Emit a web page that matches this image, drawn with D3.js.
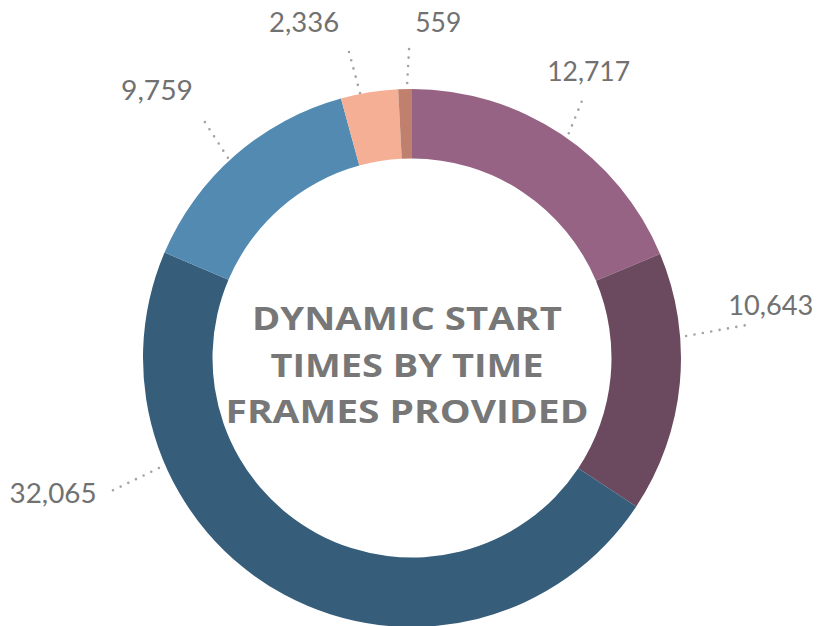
<!DOCTYPE html>
<html>
<head>
<meta charset="utf-8">
<script src="https://cdn.jsdelivr.net/npm/d3@7"></script>
<style>
  body { margin: 0; background: #ffffff; }
  svg { display: block; }
</style>
</head>
<body>
<svg id="chart" width="818" height="626"></svg>
<script>
// Dynamic start times, grouped by the time frame provided
const values = [12717, 10643, 32065, 9759, 2336, 559];
const colors = ["#976384", "#6b4a5f", "#365d7a", "#538ab2", "#f5af95", "#c0806e"];
const titleLines = ["DYNAMIC START", "TIMES BY TIME", "FRAMES PROVIDED"];

// Leader line placement per slice (degrees clockwise from 12 o'clock, radii in px)
const leaders = [
  { a0: 34.9,  r0: 274, a1: 33.4,  r1: 310, anchor: "middle", dx: 6,   dy: -18 },
  { a0: 85.4,  r0: 275, a1: 84.3,  r1: 342, anchor: "start",  dx: -24, dy: -9 },
  { a0: 246.5, r0: 276, a1: 246.1, r1: 333, anchor: "end",    dx: -11, dy: 10 },
  { a0: 317.4, r0: 272, a1: 318.9, r1: 321, anchor: "end",    dx: -8,  dy: -16 },
  { a0: 348.9, r0: 270, a1: 348.3, r1: 320, anchor: "end",    dx: -8,  dy: -13 },
  { a0: 359.0, r0: 275, a1: 359.5, r1: 313, anchor: "start",  dx: 6,   dy: -13 }
];
const titleWidths = [310, 273, 363];
const labelWidths = [83, 85, 87, 72, 70, 46];

const cx = 412, cy = 358;
const outerR = 269, innerR = 199.5;

const svg = d3.select("#chart");
const g = svg.append("g").attr("transform", `translate(${cx},${cy})`);

const pie = d3.pie().sort(null).value(d => d)(values);
const arc = d3.arc().innerRadius(innerR).outerRadius(outerR);

g.selectAll("path.slice")
  .data(pie)
  .join("path")
  .attr("class", "slice")
  .attr("d", arc)
  .attr("fill", (d, i) => colors[i]);

const polar = (deg, r) => {
  const t = deg * Math.PI / 180;
  return [r * Math.sin(t), -r * Math.cos(t)];
};

const fmt = d3.format(",");

const lab = g.selectAll("g.label")
  .data(pie)
  .join("g")
  .attr("class", "label");

lab.append("line")
  .each(function(d, i) {
    const L = leaders[i];
    const p0 = polar(L.a0, L.r0), p1 = polar(L.a1, L.r1);
    d3.select(this)
      .attr("x1", p0[0]).attr("y1", p0[1])
      .attr("x2", p1[0]).attr("y2", p1[1]);
  })
  .attr("stroke", "#a3a3a3")
  .attr("stroke-width", 2.6)
  .attr("stroke-linecap", "round")
  .attr("stroke-dasharray", "0 8.5");

lab.append("text")
  .each(function(d, i) {
    const L = leaders[i];
    const p1 = polar(L.a1, L.r1);
    d3.select(this)
      .attr("x", p1[0] + L.dx)
      .attr("y", p1[1] + L.dy)
      .attr("text-anchor", L.anchor)
      .attr("textLength", labelWidths[i])
      .attr("lengthAdjust", "spacingAndGlyphs");
  })
  .attr("font-family", "Lato, 'Open Sans', sans-serif")
  .attr("font-weight", 400)
  .attr("font-size", 27)
  .attr("fill", "#717171")
  .text(d => fmt(d.value));

// Centre title
const title = g.append("text")
  .attr("font-family", "'Open Sans', Lato, sans-serif")
  .attr("font-weight", 700)
  .attr("font-size", 32.5)
  .attr("fill", "#777777")
  .attr("text-anchor", "middle");

title.selectAll("tspan")
  .data(titleLines)
  .join("tspan")
  .attr("x", -5)
  .attr("y", (d, i) => -28 + i * 46.7)
  .attr("textLength", (d, i) => titleWidths[i])
  .attr("lengthAdjust", "spacingAndGlyphs")
  .text(d => d);
</script>
</body>
</html>
